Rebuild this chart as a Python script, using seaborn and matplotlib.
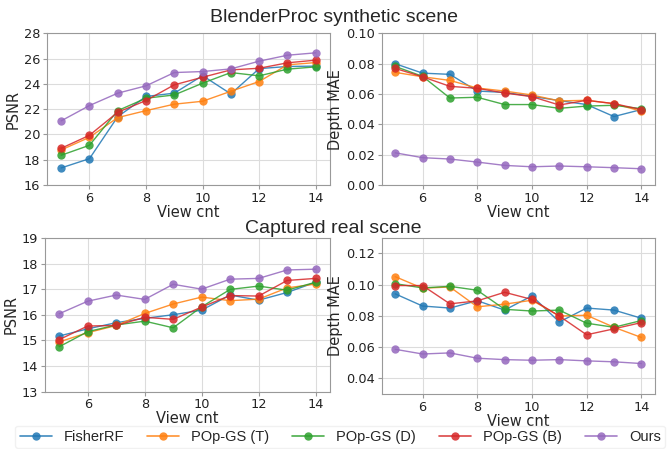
import numpy as np
import pandas as pd
import matplotlib
matplotlib.use("Agg")
import matplotlib.pyplot as plt
import seaborn as sns

views = [5, 6, 7, 8, 9, 10, 11, 12, 13, 14]
methods = ["FisherRF", "POp-GS (T)", "POp-GS (D)", "POp-GS (B)", "Ours"]

# BlenderProc synthetic scene
syn_psnr = {
    "FisherRF":   [17.35, 18.08, 21.40, 23.00, 23.26, 24.65, 23.20, 25.20, 25.37, 25.40],
    "POp-GS (T)": [18.77, 19.77, 21.33, 21.88, 22.39, 22.62, 23.41, 24.18, 25.50, 25.68],
    "POp-GS (D)": [18.35, 19.14, 21.88, 22.86, 23.12, 24.05, 24.89, 24.63, 25.16, 25.34],
    "POp-GS (B)": [18.90, 19.93, 21.75, 22.68, 23.92, 24.52, 25.10, 25.23, 25.66, 25.87],
    "Ours":       [21.07, 22.28, 23.26, 23.84, 24.89, 24.97, 25.18, 25.79, 26.26, 26.45],
}
syn_mae = {
    "FisherRF":   [0.0799, 0.0737, 0.0729, 0.0619, 0.0610, 0.0584, 0.0556, 0.0530, 0.0451, 0.0497],
    "POp-GS (T)": [0.0742, 0.0713, 0.0689, 0.0639, 0.0619, 0.0593, 0.0554, 0.0558, 0.0536, 0.0486],
    "POp-GS (D)": [0.0781, 0.0716, 0.0573, 0.0578, 0.0530, 0.0530, 0.0505, 0.0520, 0.0525, 0.0503],
    "POp-GS (B)": [0.0768, 0.0713, 0.0650, 0.0637, 0.0606, 0.0582, 0.0527, 0.0558, 0.0536, 0.0497],
    "Ours":       [0.0212, 0.0180, 0.0171, 0.0151, 0.0129, 0.0120, 0.0125, 0.0120, 0.0114, 0.0107],
}

# Captured real scene
real_psnr = {
    "FisherRF":   [15.17, 15.45, 15.69, 15.86, 16.00, 16.18, 16.77, 16.57, 16.87, 17.27],
    "POp-GS (T)": [14.94, 15.30, 15.58, 16.05, 16.42, 16.69, 16.55, 16.61, 17.05, 17.20],
    "POp-GS (D)": [14.75, 15.34, 15.60, 15.75, 15.49, 16.31, 16.99, 17.12, 16.96, 17.27],
    "POp-GS (B)": [15.03, 15.56, 15.58, 15.90, 15.82, 16.30, 16.75, 16.73, 17.34, 17.42],
    "Ours":       [16.04, 16.53, 16.77, 16.60, 17.19, 17.00, 17.39, 17.42, 17.75, 17.78],
}
real_mae = {
    "FisherRF":   [0.0941, 0.0863, 0.0850, 0.0897, 0.0837, 0.0928, 0.0761, 0.0850, 0.0837, 0.0785],
    "POp-GS (T)": [0.1051, 0.0977, 0.0985, 0.0858, 0.0875, 0.0900, 0.0799, 0.0804, 0.0727, 0.0662],
    "POp-GS (D)": [0.1006, 0.0979, 0.0989, 0.0964, 0.0842, 0.0831, 0.0837, 0.0753, 0.0727, 0.0770],
    "POp-GS (B)": [0.0994, 0.0994, 0.0877, 0.0896, 0.0951, 0.0905, 0.0799, 0.0679, 0.0717, 0.0757],
    "Ours":       [0.0586, 0.0556, 0.0563, 0.0529, 0.0520, 0.0516, 0.0520, 0.0512, 0.0506, 0.0495],
}


def to_long(d):
    rows = []
    for m in methods:
        for v, val in zip(views, d[m]):
            rows.append({"View cnt": v, "value": val, "method": m})
    return pd.DataFrame(rows)


sns.set_style("whitegrid", {"grid.color": "#dcdcdc", "axes.edgecolor": "#999999",
                            "xtick.bottom": True, "ytick.left": True})
plt.rcParams["font.family"] = ["DejaVu Sans"]
plt.rcParams["xtick.color"] = "#999999"
plt.rcParams["ytick.color"] = "#999999"
plt.rcParams["xtick.labelcolor"] = "#222222"
plt.rcParams["ytick.labelcolor"] = "#222222"

palette = dict(zip(methods, sns.color_palette("tab10", 5)))

fig = plt.figure(figsize=(6.67, 4.49), dpi=100)
ax_tl = fig.add_axes([0.0705, 0.588, 0.424, 0.338])
ax_tr = fig.add_axes([0.572, 0.588, 0.410, 0.338])
ax_bl = fig.add_axes([0.0675, 0.128, 0.427, 0.342])
ax_br = fig.add_axes([0.572, 0.1225, 0.410, 0.348])

panels = [
    (ax_tl, syn_psnr, "PSNR", (16, 28), np.arange(16, 29, 2), "{:.0f}"),
    (ax_tr, syn_mae, "Depth MAE", (0.0, 0.10), np.arange(0, 0.101, 0.02), "{:.2f}"),
    (ax_bl, real_psnr, "PSNR", (13, 19), np.arange(13, 20, 1), "{:.0f}"),
    (ax_br, real_mae, "Depth MAE", (0.03, 0.13), np.arange(0.04, 0.121, 0.02), "{:.2f}"),
]

for ax, d, ylab, ylim, yt, fmt in panels:
    sns.lineplot(data=to_long(d), x="View cnt", y="value", hue="method", palette=palette,
                 marker="o", markersize=6, markeredgewidth=0, linewidth=1, alpha=0.85,
                 ax=ax, legend=False)
    ax.set_ylim(*ylim)
    ax.set_yticks(yt)
    ax.set_yticklabels([fmt.format(t) for t in yt])
    ax.set_xlim(4.5, 14.5)
    ax.set_xticks([6, 8, 10, 12, 14])
    ax.set_xlabel("View cnt", fontsize=10.5, labelpad=0)
    ax.set_ylabel(ylab, fontsize=10.5, labelpad=2)
    ax.tick_params(labelsize=9.3, length=3, pad=2)

fig.text(0.5, 0.962, "BlenderProc synthetic scene", ha="center", va="center",
         fontsize=14, family="Liberation Sans")
fig.text(0.5, 0.49, "Captured real scene", ha="center", va="center",
         fontsize=14, family="Liberation Sans")

handles = [plt.Line2D([0], [0], color=palette[m], marker="o", markersize=6,
                      markeredgewidth=0, linewidth=1.2, alpha=0.85) for m in methods]
fig.legend(handles, methods, loc="center", bbox_to_anchor=(0.51, 0.027), ncol=5,
           prop={"family": "Liberation Sans", "size": 10.5}, frameon=True,
           edgecolor="#eeeeee", handlelength=2.2, columnspacing=1.6, borderpad=0.3)

fig.savefig("out.png", dpi=100)
